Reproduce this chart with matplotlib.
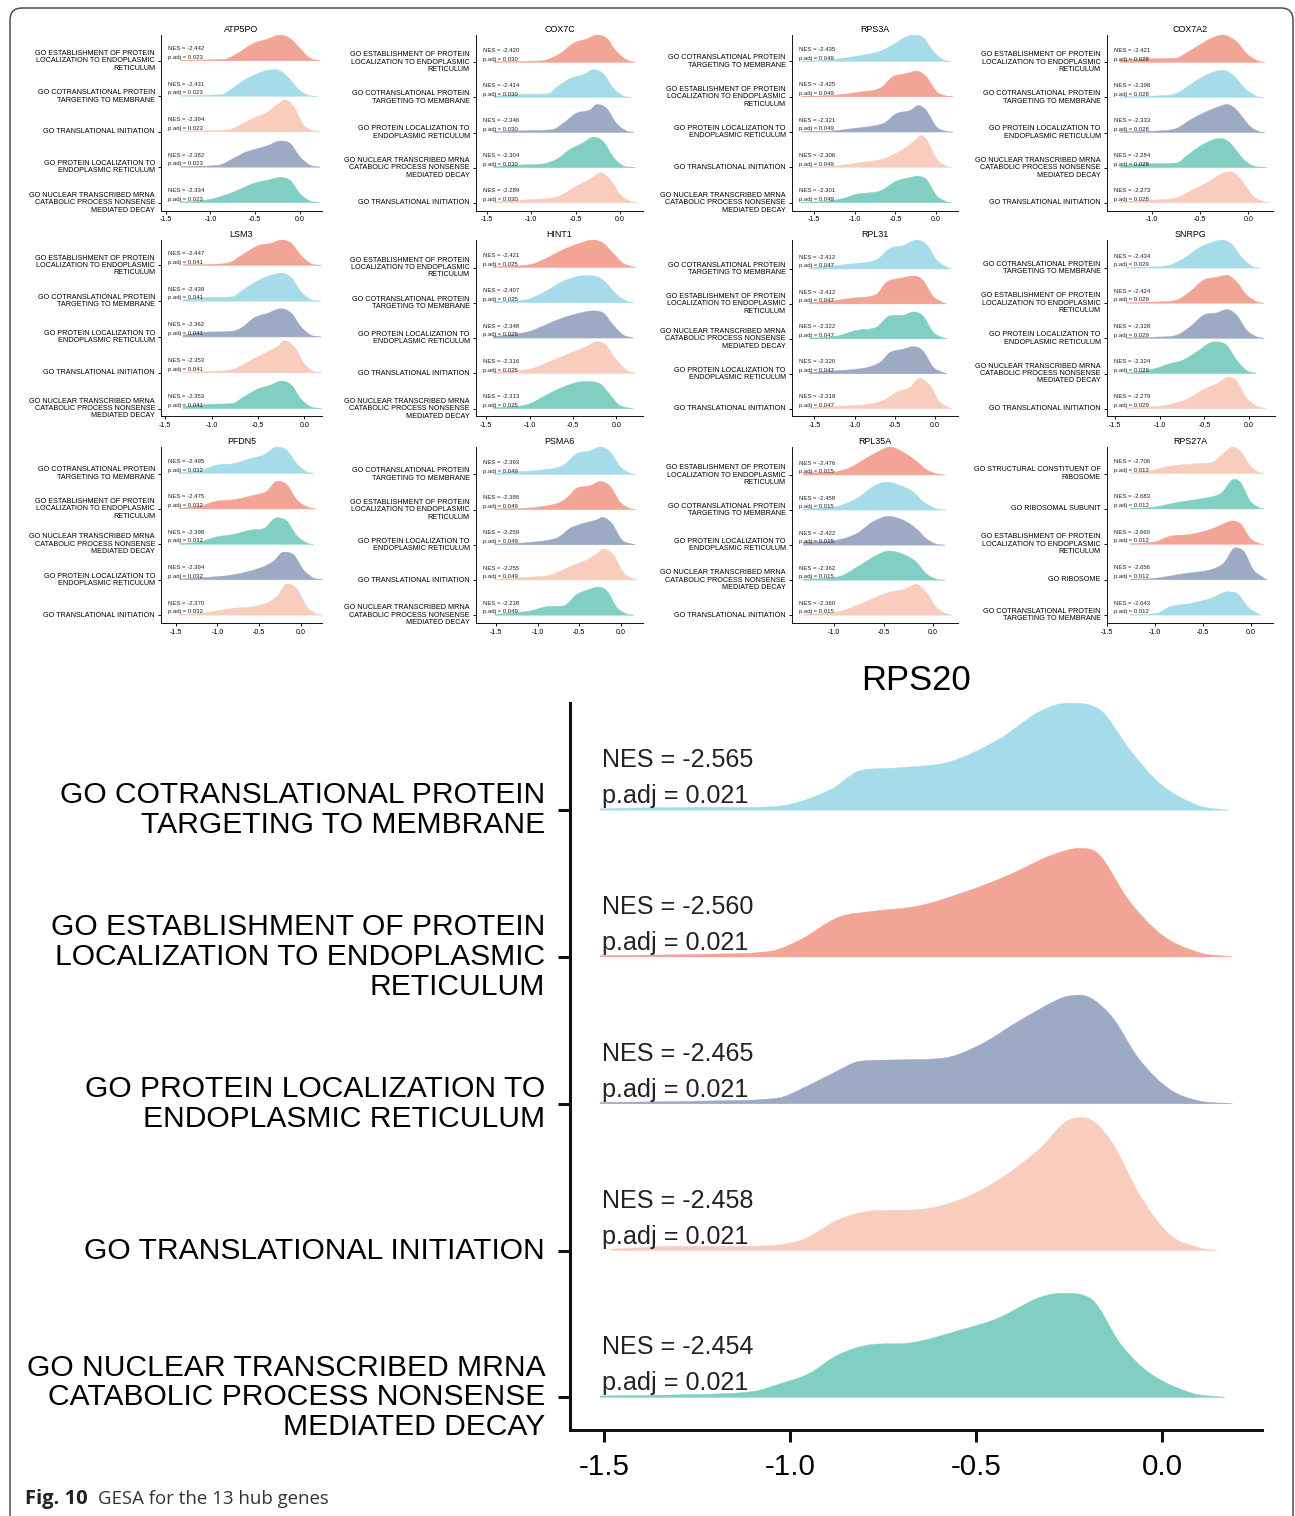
import numpy as np
import matplotlib
matplotlib.use('Agg')
import matplotlib.pyplot as plt
from matplotlib.path import Path
from matplotlib.patches import PathPatch, FancyBboxPatch
import matplotlib.transforms as mtransforms

plt.rcParams['font.family'] = ['Liberation Sans', 'DejaVu Sans']

W, H = 1295, 1516

# цвета (npg, полупрозрачные на белом)
COL = {'red': '#F2A497', 'blue': '#A6DCEA', 'navy': '#9DAAC4',
       'teal': '#80CFC2', 'peach': '#F9CDBE'}

TERM_LABEL = {
    'EST': 'GO ESTABLISHMENT OF PROTEIN\nLOCALIZATION TO ENDOPLASMIC\nRETICULUM',
    'COT': 'GO COTRANSLATIONAL PROTEIN\nTARGETING TO MEMBRANE',
    'TI': 'GO TRANSLATIONAL INITIATION',
    'PL': 'GO PROTEIN LOCALIZATION TO\nENDOPLASMIC RETICULUM',
    'NMD': 'GO NUCLEAR TRANSCRIBED MRNA\nCATABOLIC PROCESS NONSENSE\nMEDIATED DECAY',
    'SCR': 'GO STRUCTURAL CONSTITUENT OF\nRIBOSOME',
    'RSU': 'GO RIBOSOMAL SUBUNIT',
    'RIB': 'GO RIBOSOME',
}
TERM_COLOR = {'EST': 'red', 'COT': 'blue', 'TI': 'peach', 'PL': 'navy', 'NMD': 'teal',
              'SCR': 'peach', 'RSU': 'teal', 'RIB': 'navy'}

GENES = ['ATP5PO', 'COX7C', 'RPS3A', 'COX7A2',
         'LSM3', 'HINT1', 'RPL31', 'SNRPG',
         'PFDN5', 'PSMA6', 'RPL35A', 'RPS27A', 'RPS20']

TERMS = [
    ['EST', 'COT', 'TI', 'PL', 'NMD'],
    ['EST', 'COT', 'PL', 'NMD', 'TI'],
    ['COT', 'EST', 'PL', 'TI', 'NMD'],
    ['EST', 'COT', 'PL', 'NMD', 'TI'],
    ['EST', 'COT', 'PL', 'TI', 'NMD'],
    ['EST', 'COT', 'PL', 'TI', 'NMD'],
    ['COT', 'EST', 'NMD', 'PL', 'TI'],
    ['COT', 'EST', 'PL', 'NMD', 'TI'],
    ['COT', 'EST', 'NMD', 'PL', 'TI'],
    ['COT', 'EST', 'PL', 'TI', 'NMD'],
    ['EST', 'COT', 'PL', 'NMD', 'TI'],
    ['SCR', 'RSU', 'EST', 'RIB', 'COT'],
    ['COT', 'EST', 'PL', 'TI', 'NMD'],
]

NES = [
    [-2.442, -2.431, -2.394, -2.382, -2.334],
    [-2.420, -2.414, -2.346, -2.304, -2.289],
    [-2.435, -2.425, -2.321, -2.306, -2.301],
    [-2.421, -2.398, -2.333, -2.284, -2.273],
    [-2.447, -2.439, -2.362, -2.353, -2.353],
    [-2.421, -2.407, -2.348, -2.316, -2.313],
    [-2.412, -2.412, -2.322, -2.320, -2.319],
    [-2.434, -2.424, -2.328, -2.324, -2.279],
    [-2.495, -2.475, -2.398, -2.394, -2.370],
    [-2.393, -2.386, -2.259, -2.255, -2.238],
    [-2.476, -2.458, -2.422, -2.362, -2.360],
    [-2.706, -2.683, -2.660, -2.656, -2.643],
    [-2.565, -2.560, -2.465, -2.458, -2.454],
]

PADJ = [0.023, 0.030, 0.049, 0.028, 0.041, 0.025, 0.047, 0.029,
        0.032, 0.049, 0.015, 0.012, 0.021]

# узлы кривых плотности: x (logFC) и высота в долях шага между гребнями
RIDGE_X = [
    [[-1.33, -0.85, -0.74, -0.52, -0.37, -0.22, -0.11, 0.0, 0.11, 0.22],
     [-1.33, -0.88, -0.74, -0.6, -0.37, -0.26, -0.15, 0.0, 0.11, 0.19],
     [-1.33, -0.8, -0.67, -0.52, -0.37, -0.22, -0.17, -0.07, 0.04, 0.15, 0.22],
     [-1.33, -0.92, -0.74, -0.6, -0.37, -0.22, -0.11, 0.0, 0.11, 0.22],
     [-1.33, -1.15, -0.97, -0.74, -0.52, -0.37, -0.22, -0.11, 0.0, 0.11, 0.22]],
    [[-1.42, -0.9, -0.79, -0.67, -0.52, -0.37, -0.26, -0.15, -0.04, 0.07, 0.17],
     [-1.42, -1.2, -0.8, -0.71, -0.56, -0.41, -0.3, -0.19, -0.07, 0.04, 0.13],
     [-1.42, -1.1, -0.76, -0.64, -0.49, -0.34, -0.26, -0.15, -0.04, 0.07, 0.15],
     [-1.42, -1.1, -0.86, -0.71, -0.56, -0.41, -0.3, -0.19, -0.07, 0.04, 0.17],
     [-1.42, -1.01, -0.75, -0.64, -0.49, -0.34, -0.22, -0.11, 0.0, 0.11, 0.19]],
    [[-1.66, -1.35, -1.06, -0.73, -0.57, -0.4, -0.28, -0.16, -0.03, 0.09, 0.17],
     [-1.66, -1.35, -1.14, -0.98, -0.69, -0.53, -0.36, -0.24, -0.12, 0.01, 0.13, 0.21],
     [-1.66, -1.3, -1.06, -0.65, -0.49, -0.32, -0.22, -0.12, 0.01, 0.13, 0.21],
     [-1.66, -1.3, -0.98, -0.65, -0.4, -0.24, -0.2, -0.12, 0.01, 0.13, 0.19],
     [-1.66, -1.35, -1.14, -0.98, -0.69, -0.49, -0.32, -0.24, -0.12, 0.01, 0.13, 0.19]],
    [[-1.33, -1.1, -0.74, -0.67, -0.53, -0.4, -0.26, -0.12, -0.02, 0.09, 0.17],
     [-1.33, -0.9, -0.74, -0.6, -0.47, -0.33, -0.26, -0.16, -0.02, 0.09, 0.16],
     [-1.33, -0.9, -0.74, -0.6, -0.47, -0.33, -0.22, -0.12, 0.02, 0.12, 0.17],
     [-1.33, -1.15, -0.74, -0.64, -0.5, -0.36, -0.29, -0.19, -0.05, 0.05, 0.19],
     [-1.33, -1.0, -0.74, -0.6, -0.4, -0.26, -0.19, -0.09, 0.05, 0.16, 0.22]],
    [[-1.31, -0.9, -0.79, -0.65, -0.5, -0.36, -0.25, -0.14, -0.04, 0.07, 0.18],
     [-1.31, -1.1, -0.78, -0.68, -0.54, -0.4, -0.25, -0.14, -0.04, 0.07, 0.18],
     [-1.31, -1.1, -0.78, -0.68, -0.54, -0.4, -0.25, -0.14, -0.04, 0.07, 0.18],
     [-1.31, -0.9, -0.75, -0.58, -0.43, -0.29, -0.22, -0.11, 0.0, 0.11, 0.2],
     [-1.31, -1.0, -0.78, -0.65, -0.5, -0.36, -0.25, -0.14, -0.04, 0.07, 0.18]],
    [[-1.42, -1.0, -0.81, -0.62, -0.42, -0.27, -0.15, -0.04, 0.08, 0.19, 0.22],
     [-1.42, -1.04, -0.85, -0.65, -0.5, -0.38, -0.23, -0.12, 0.0, 0.12, 0.2],
     [-1.42, -1.2, -1.0, -0.81, -0.62, -0.42, -0.27, -0.15, -0.04, 0.08, 0.2],
     [-1.42, -1.0, -0.77, -0.54, -0.35, -0.23, -0.12, 0.0, 0.12, 0.22],
     [-1.42, -1.15, -1.0, -0.81, -0.62, -0.46, -0.35, -0.19, -0.08, 0.04, 0.2]],
    [[-1.56, -1.47, -1.06, -0.73, -0.56, -0.39, -0.23, -0.1, 0.02, 0.15, 0.21],
     [-1.56, -1.3, -1.06, -0.73, -0.6, -0.39, -0.27, -0.15, -0.02, 0.1, 0.15],
     [-1.56, -1.22, -0.98, -0.73, -0.56, -0.39, -0.27, -0.15, -0.02, 0.1, 0.15],
     [-1.56, -1.47, -0.89, -0.68, -0.56, -0.39, -0.27, -0.15, -0.02, 0.1, 0.15],
     [-1.56, -1.47, -0.89, -0.64, -0.48, -0.31, -0.19, -0.06, 0.06, 0.19, 0.21]],
    [[-1.37, -1.0, -0.89, -0.74, -0.55, -0.36, -0.29, -0.18, -0.07, 0.04, 0.12],
     [-1.37, -1.0, -0.81, -0.66, -0.51, -0.36, -0.25, -0.14, -0.03, 0.08, 0.16],
     [-1.37, -1.0, -0.81, -0.66, -0.51, -0.36, -0.25, -0.14, -0.03, 0.08, 0.17],
     [-1.37, -1.2, -1.0, -0.89, -0.74, -0.59, -0.44, -0.36, -0.25, -0.14, -0.03, 0.08],
     [-1.37, -1.0, -0.89, -0.7, -0.51, -0.36, -0.23, -0.14, -0.03, 0.08, 0.19]],
    [[-1.45, -1.21, -1.01, -0.81, -0.61, -0.45, -0.29, -0.17, -0.05, 0.07, 0.15],
     [-1.45, -1.21, -1.01, -0.81, -0.61, -0.41, -0.29, -0.17, -0.05, 0.07, 0.18],
     [-1.45, -1.21, -1.01, -0.81, -0.61, -0.45, -0.29, -0.17, -0.05, 0.07, 0.15],
     [-1.45, -1.21, -0.81, -0.49, -0.33, -0.21, -0.09, 0.03, 0.15, 0.25],
     [-1.45, -1.21, -0.81, -0.49, -0.29, -0.17, -0.05, 0.07, 0.19, 0.25]],
    [[-1.51, -1.41, -0.89, -0.69, -0.53, -0.37, -0.25, -0.13, -0.01, 0.11, 0.17],
     [-1.51, -1.09, -0.77, -0.65, -0.53, -0.37, -0.25, -0.13, -0.01, 0.11, 0.17],
     [-1.51, -1.09, -0.77, -0.61, -0.45, -0.29, -0.23, -0.11, 0.01, 0.13, 0.17],
     [-1.51, -1.09, -0.85, -0.61, -0.41, -0.29, -0.21, -0.09, 0.03, 0.15, 0.19],
     [-1.51, -1.3, -1.09, -0.89, -0.69, -0.53, -0.37, -0.29, -0.17, -0.05, 0.07, 0.15]],
    [[-1.31, -1.0, -0.84, -0.67, -0.51, -0.44, -0.3, -0.17, -0.07, 0.03, 0.13],
     [-1.31, -1.1, -0.98, -0.77, -0.61, -0.47, -0.34, -0.2, -0.1, 0.03, 0.13],
     [-1.31, -0.98, -0.77, -0.61, -0.45, -0.3, -0.17, -0.07, 0.03, 0.12],
     [-1.31, -1.05, -0.91, -0.74, -0.57, -0.45, -0.3, -0.17, -0.07, 0.03, 0.12],
     [-1.31, -0.98, -0.77, -0.57, -0.44, -0.3, -0.17, -0.07, 0.03, 0.13, 0.19]],
    [[-1.26, -1.05, -0.84, -0.56, -0.42, -0.28, -0.19, -0.1, 0.0, 0.1, 0.14],
     [-1.26, -1.01, -0.77, -0.49, -0.31, -0.17, -0.1, 0.0, 0.1, 0.14],
     [-1.26, -1.0, -0.84, -0.63, -0.42, -0.28, -0.19, -0.1, 0.0, 0.1, 0.14],
     [-1.26, -1.0, -0.7, -0.42, -0.28, -0.16, -0.07, 0.03, 0.14, 0.17],
     [-1.26, -0.98, -0.84, -0.63, -0.42, -0.24, -0.14, -0.03, 0.07, 0.11]],
    [[-1.51, -1.25, -1.1, -1.0, -0.89, -0.81, -0.70, -0.57, -0.44, -0.33, -0.25, -0.17, -0.086, 0.0, 0.10, 0.18],
     [-1.51, -1.2, -1.05, -0.97, -0.87, -0.78, -0.65, -0.51, -0.41, -0.30, -0.22, -0.17, -0.09, 0.0, 0.1, 0.19],
     [-1.51, -1.2, -1.03, -0.97, -0.89, -0.81, -0.70, -0.59, -0.49, -0.38, -0.27, -0.22, -0.14, -0.06, 0.02, 0.1, 0.19],
     [-1.48, -1.3, -1.1, -0.97, -0.87, -0.78, -0.65, -0.54, -0.44, -0.33, -0.25, -0.21, -0.14, -0.06, 0.02, 0.10, 0.15],
     [-1.51, -1.25, -1.1, -1.03, -0.95, -0.87, -0.78, -0.68, -0.54, -0.44, -0.33, -0.26, -0.19, -0.11, -0.03, 0.08, 0.17]],
]

RIDGE_H = [
    [[0.02, 0.04, 0.15, 0.49, 0.61, 0.73, 0.63, 0.35, 0.08, 0.0],
     [0.02, 0.05, 0.25, 0.49, 0.73, 0.75, 0.58, 0.16, 0.02, 0.0],
     [0.02, 0.05, 0.19, 0.38, 0.55, 0.83, 0.9, 0.71, 0.19, 0.03, 0.0],
     [0.02, 0.05, 0.25, 0.43, 0.6, 0.74, 0.67, 0.29, 0.06, 0.0],
     [0.02, 0.04, 0.11, 0.3, 0.54, 0.63, 0.71, 0.63, 0.25, 0.05, 0.0]],
    [[0.02, 0.04, 0.1, 0.26, 0.55, 0.67, 0.78, 0.69, 0.31, 0.08, 0.0],
     [0.03, 0.08, 0.11, 0.3, 0.54, 0.65, 0.79, 0.68, 0.25, 0.04, 0.0],
     [0.02, 0.05, 0.08, 0.26, 0.55, 0.64, 0.8, 0.69, 0.26, 0.05, 0.0],
     [0.03, 0.08, 0.11, 0.24, 0.52, 0.71, 0.87, 0.75, 0.28, 0.05, 0.0],
     [0.02, 0.09, 0.14, 0.24, 0.47, 0.66, 0.85, 0.66, 0.24, 0.05, 0.0]],
    [[0.01, 0.04, 0.12, 0.26, 0.42, 0.66, 0.75, 0.68, 0.28, 0.05, 0.0],
     [0.01, 0.03, 0.07, 0.12, 0.24, 0.57, 0.66, 0.73, 0.57, 0.14, 0.02, 0.0],
     [0.01, 0.03, 0.09, 0.24, 0.52, 0.61, 0.75, 0.61, 0.14, 0.02, 0.0],
     [0.01, 0.03, 0.12, 0.24, 0.52, 0.8, 0.9, 0.8, 0.24, 0.03, 0.0],
     [0.01, 0.04, 0.12, 0.24, 0.33, 0.61, 0.71, 0.75, 0.66, 0.19, 0.03, 0.0]],
    [[0.05, 0.1, 0.12, 0.22, 0.45, 0.66, 0.78, 0.59, 0.26, 0.05, 0.0],
     [0.02, 0.05, 0.12, 0.36, 0.59, 0.75, 0.78, 0.64, 0.22, 0.03, 0.0],
     [0.02, 0.05, 0.12, 0.36, 0.55, 0.71, 0.8, 0.64, 0.17, 0.02, 0.0],
     [0.03, 0.1, 0.13, 0.33, 0.61, 0.8, 0.83, 0.71, 0.24, 0.05, 0.0],
     [0.02, 0.07, 0.14, 0.33, 0.61, 0.85, 0.88, 0.71, 0.19, 0.03, 0.0]],
    [[0.02, 0.04, 0.1, 0.33, 0.55, 0.62, 0.71, 0.62, 0.29, 0.05, 0.0],
     [0.04, 0.1, 0.12, 0.28, 0.52, 0.69, 0.78, 0.66, 0.28, 0.05, 0.0],
     [0.05, 0.13, 0.16, 0.25, 0.54, 0.66, 0.79, 0.66, 0.3, 0.05, 0.0],
     [0.02, 0.05, 0.11, 0.35, 0.54, 0.73, 0.9, 0.73, 0.25, 0.03, 0.0],
     [0.06, 0.12, 0.14, 0.33, 0.55, 0.66, 0.77, 0.66, 0.28, 0.05, 0.0]],
    [[0.02, 0.08, 0.26, 0.5, 0.69, 0.78, 0.69, 0.41, 0.12, 0.02, 0.0],
     [0.03, 0.09, 0.28, 0.57, 0.71, 0.77, 0.75, 0.57, 0.24, 0.05, 0.0],
     [0.05, 0.1, 0.19, 0.38, 0.57, 0.71, 0.77, 0.71, 0.38, 0.09, 0.0],
     [0.03, 0.12, 0.33, 0.57, 0.75, 0.9, 0.8, 0.38, 0.09, 0.0],
     [0.03, 0.06, 0.14, 0.38, 0.61, 0.74, 0.77, 0.71, 0.42, 0.09, 0.0]],
    [[0.02, 0.05, 0.14, 0.26, 0.59, 0.67, 0.83, 0.69, 0.26, 0.05, 0.0],
     [0.03, 0.08, 0.16, 0.27, 0.63, 0.75, 0.8, 0.68, 0.21, 0.04, 0.0],
     [0.02, 0.08, 0.24, 0.33, 0.66, 0.68, 0.77, 0.66, 0.19, 0.03, 0.0],
     [0.02, 0.05, 0.16, 0.33, 0.61, 0.71, 0.78, 0.66, 0.19, 0.04, 0.0],
     [0.02, 0.05, 0.11, 0.24, 0.47, 0.61, 0.87, 0.66, 0.19, 0.02, 0.0]],
    [[0.02, 0.04, 0.08, 0.26, 0.59, 0.78, 0.8, 0.64, 0.26, 0.05, 0.0],
     [0.02, 0.04, 0.09, 0.33, 0.66, 0.74, 0.8, 0.61, 0.24, 0.05, 0.0],
     [0.02, 0.04, 0.09, 0.33, 0.66, 0.73, 0.82, 0.66, 0.24, 0.05, 0.0],
     [0.02, 0.06, 0.18, 0.28, 0.38, 0.61, 0.87, 0.9, 0.8, 0.38, 0.09, 0.0],
     [0.02, 0.07, 0.12, 0.26, 0.55, 0.71, 0.9, 0.78, 0.31, 0.08, 0.0]],
    [[0.02, 0.08, 0.24, 0.28, 0.42, 0.52, 0.75, 0.66, 0.28, 0.05, 0.0],
     [0.02, 0.08, 0.22, 0.26, 0.36, 0.5, 0.78, 0.69, 0.26, 0.06, 0.0],
     [0.02, 0.07, 0.21, 0.28, 0.4, 0.44, 0.75, 0.66, 0.25, 0.04, 0.0],
     [0.02, 0.05, 0.14, 0.33, 0.52, 0.78, 0.71, 0.28, 0.05, 0.0],
     [0.02, 0.05, 0.19, 0.28, 0.52, 0.88, 0.75, 0.24, 0.03, 0.0]],
    [[0.02, 0.05, 0.14, 0.26, 0.59, 0.67, 0.78, 0.64, 0.22, 0.03, 0.0],
     [0.02, 0.05, 0.17, 0.33, 0.61, 0.68, 0.8, 0.66, 0.21, 0.03, 0.0],
     [0.02, 0.07, 0.19, 0.47, 0.61, 0.71, 0.78, 0.61, 0.14, 0.02, 0.0],
     [0.02, 0.08, 0.14, 0.38, 0.57, 0.75, 0.88, 0.71, 0.21, 0.03, 0.0],
     [0.02, 0.06, 0.12, 0.24, 0.26, 0.59, 0.74, 0.8, 0.69, 0.22, 0.03, 0.0]],
    [[0.06, 0.09, 0.21, 0.49, 0.73, 0.8, 0.65, 0.4, 0.16, 0.04, 0.0],
     [0.03, 0.06, 0.09, 0.33, 0.66, 0.8, 0.71, 0.52, 0.24, 0.04, 0.0],
     [0.08, 0.14, 0.33, 0.66, 0.82, 0.71, 0.47, 0.19, 0.03, 0.0],
     [0.03, 0.06, 0.14, 0.42, 0.71, 0.83, 0.74, 0.52, 0.19, 0.03, 0.0],
     [0.03, 0.09, 0.28, 0.52, 0.66, 0.73, 0.88, 0.66, 0.24, 0.05, 0.0]],
    [[0.02, 0.08, 0.21, 0.28, 0.3, 0.57, 0.75, 0.61, 0.21, 0.02, 0.0],
     [0.01, 0.05, 0.18, 0.3, 0.44, 0.84, 0.73, 0.21, 0.02, 0.0],
     [0.02, 0.07, 0.23, 0.28, 0.42, 0.58, 0.66, 0.57, 0.16, 0.02, 0.0],
     [0.01, 0.04, 0.17, 0.28, 0.47, 0.9, 0.8, 0.28, 0.05, 0.0],
     [0.01, 0.05, 0.24, 0.33, 0.47, 0.66, 0.61, 0.24, 0.05, 0.0]],
    [[0.01, 0.02, 0.02, 0.04, 0.14, 0.27, 0.29, 0.33, 0.48, 0.67, 0.73, 0.69, 0.41, 0.17, 0.03, 0.0],
     [0.01, 0.02, 0.04, 0.12, 0.27, 0.31, 0.35, 0.46, 0.56, 0.69, 0.74, 0.70, 0.39, 0.15, 0.03, 0.0],
     [0.01, 0.02, 0.04, 0.1, 0.2, 0.29, 0.30, 0.31, 0.40, 0.57, 0.72, 0.74, 0.61, 0.30, 0.1, 0.02, 0.0],
     [0.01, 0.03, 0.03, 0.07, 0.21, 0.27, 0.28, 0.35, 0.48, 0.69, 0.89, 0.905, 0.76, 0.38, 0.11, 0.02, 0.0],
     [0.01, 0.02, 0.04, 0.09, 0.16, 0.29, 0.36, 0.37, 0.46, 0.54, 0.68, 0.71, 0.67, 0.36, 0.16, 0.03, 0.0]],
]

# положение осей в пикселях: левый, правый, верх, низ, пределы по x
ROWS = [(35, 210.5), (240, 416.5), (447, 623)]
BOX = [
    (161, 322, -1.552, 0.245), (475.7, 643.3, -1.623, 0.262),
    (791.7, 958.3, -1.779, 0.275), (1106.7, 1273.3, -1.465, 0.259),
    (161, 321.7, -1.547, 0.187), (475.7, 643.3, -1.623, 0.311),
    (791.7, 958.3, -1.783, 0.291), (1106.7, 1275, -1.591, 0.288),
    (161, 321.7, -1.675, 0.248), (475.7, 643.3, -1.74, 0.266),
    (791.7, 958.3, -1.428, 0.255), (1106.7, 1273.3, -1.505, 0.238),
]


def slopes(x, y):
    n = len(x)
    sec = [(y[i + 1] - y[i]) / (x[i + 1] - x[i]) for i in range(n - 1)]
    m = [0.0] * n
    m[0] = sec[0]
    m[-1] = sec[-1]
    for i in range(1, n - 1):
        a, b = sec[i - 1], sec[i]
        if a * b <= 0:
            m[i] = 0.0
        else:
            c = (y[i + 1] - y[i - 1]) / (x[i + 1] - x[i - 1])
            lim = 3 * min(abs(a), abs(b))
            m[i] = np.sign(c) * min(abs(c), lim)
    return m


def ridge(ax, xs, hs, base, color, z):
    m = slopes(xs, hs)
    verts = [(xs[0], base), (xs[0], base + hs[0])]
    codes = [Path.MOVETO, Path.LINETO]
    for i in range(len(xs) - 1):
        dx = xs[i + 1] - xs[i]
        c1 = (xs[i] + dx / 3, base + max(hs[i] + m[i] * dx / 3, 0))
        c2 = (xs[i + 1] - dx / 3, base + max(hs[i + 1] - m[i + 1] * dx / 3, 0))
        verts += [c1, c2, (xs[i + 1], base + hs[i + 1])]
        codes += [Path.CURVE4] * 3
    verts += [(xs[-1], base), (xs[0], base)]
    codes += [Path.LINETO, Path.CLOSEPOLY]
    ax.add_patch(PathPatch(Path(verts, codes), facecolor=color,
                           edgecolor=color, lw=0.3, zorder=z))


def panel(k, L, R, T, B, xl, xr, big=False):
    f = 4.16 if big else 1.0
    ax = fig.add_axes([L / W, 1 - B / H, (R - L) / W, (B - T) / H])
    n = len(TERMS[k])
    bases = [n - 1 - i for i in range(n)]
    top = max(b + max(h) for b, h in zip(bases, RIDGE_H[k]))
    for i in range(n):
        ridge(ax, RIDGE_X[k][i], RIDGE_H[k][i], bases[i],
              COL[TERM_COLOR[TERMS[k][i]]], 2 + i)
    tr = mtransforms.blended_transform_factory(ax.transAxes, ax.transData)
    for i in range(n):
        ax.text(0.046, bases[i] + 0.34, 'NES = %.3f' % NES[k][i], transform=tr,
                ha='left', va='center', fontsize=4.35 * f, color='#222222', zorder=10)
        ax.text(0.046, bases[i] + 0.095, 'p.adj = %.3f' % PADJ[k], transform=tr,
                ha='left', va='center', fontsize=4.35 * f, color='#222222', zorder=10)
    ax.set_xlim(xl, xr)
    ax.set_ylim(-0.222, top)
    ticks = [t for t in [-1.5, -1.0, -0.5, 0.0] if xl <= t <= xr]
    ax.set_xticks(ticks)
    ax.set_xticklabels(['%.1f' % t for t in ticks])
    ax.set_yticks(bases)
    ax.set_yticklabels([TERM_LABEL[t] for t in TERMS[k]])
    for lab in ax.get_yticklabels():
        lab.set_va('center')
        lab.set_multialignment('right')
        lab.set_linespacing(1.08)
    for s in ['top', 'right']:
        ax.spines[s].set_visible(False)
    lw = 0.7 * 0.75 * f if big else 0.7
    for s in ['left', 'bottom']:
        ax.spines[s].set_linewidth(lw)
        ax.spines[s].set_color('#111111')
    ax.tick_params(axis='y', labelsize=5.2 * f, length=2.0 * f, width=lw,
                   pad=2.3 * f, colors='#111111', labelcolor='black')
    ax.tick_params(axis='x', labelsize=5.1 * f, length=2.0 * f, width=lw,
                   pad=2.0 * f, colors='#111111', labelcolor='black')
    ax.set_title(GENES[k], fontsize=(6.0 * f if big else 6.4), pad=2.2 * f, color='black')
    ax.patch.set_alpha(0)
    return ax


fig = plt.figure(figsize=(W / 100, H / 100), dpi=100)

for k in range(12):
    T, B = ROWS[k // 4]
    L, R, xl, xr = BOX[k]
    panel(k, L, R, T, B, xl, xr)

# большой график RPS20
panel(12, 570, 1262, 703, 1430, -1.591, 0.269, big=True)

# рамка и подпись
frame = FancyBboxPatch((0.10, -0.3), 12.83, 15.38,
                       boxstyle='round,pad=0,rounding_size=0.12',
                       transform=fig.dpi_scale_trans, fill=False,
                       edgecolor='#4d4d4d', lw=1.1)
fig.add_artist(frame)
fig.text(25 / W, 1 - 1504 / H, 'Fig. 10', fontsize=14.5, fontweight='bold',
         family=['Open Sans', 'DejaVu Sans'], va='baseline', ha='left', color='#222222')
fig.text(98 / W, 1 - 1504 / H, 'GESA for the 13 hub genes', fontsize=13.4,
         family=['Open Sans', 'DejaVu Sans'], va='baseline', ha='left', color='#333333')

fig.savefig('out.png', dpi=100)
